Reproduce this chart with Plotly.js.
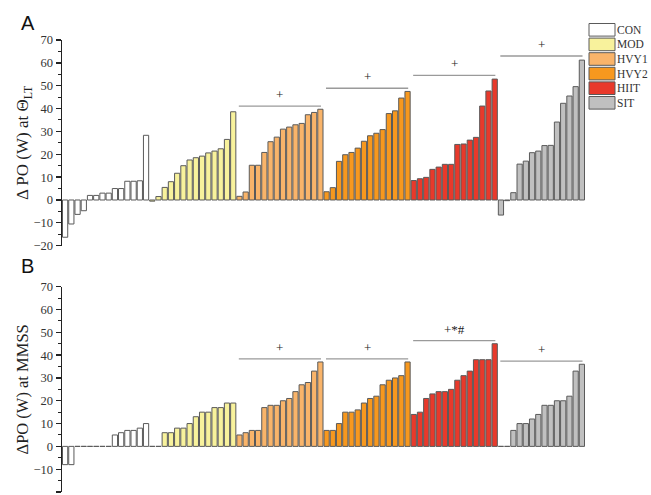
<!DOCTYPE html>
<html>
<head>
<meta charset="utf-8">
<script src="https://cdn.plot.ly/plotly-3.0.1.min.js"></script>
<style>
  html, body { margin: 0; padding: 0; background: #fff; }
  #chart { width: 651px; height: 495px; }
</style>
</head>
<body>
<div id="chart"></div>
<script>
// Training groups, in plotting order
const groups = ['CON', 'MOD', 'HVY1', 'HVY2', 'HIIT', 'SIT'];
const groupColors = ['#ffffff', '#f8f29c', '#f9b46a', '#f7981e', '#e8392b', '#c0c0c0'];

// Panel A: individual change in power output at the lactate threshold (W), sorted within group
const ltCON  = [-16.3, -10.5, -6.3, -4.7, 2, 2, 3, 3, 5, 5, 8.2, 8.2, 8.4, 28.3];
const ltMOD  = [-0.5, 1.5, 5.5, 8, 11.7, 15, 17.5, 18.5, 19.2, 20.6, 21.4, 22.4, 26.5, 38.6];
const ltHVY1 = [1.6, 3.5, 15.2, 15.2, 20.8, 25.5, 27.5, 31, 31.9, 32.9, 33.5, 37.3, 38.3, 39.7];
const ltHVY2 = [3.6, 5.4, 16.9, 19.8, 20.8, 22.7, 25.7, 28.1, 29.2, 30.8, 37.8, 39, 44.6, 47.5];
const ltHIIT = [8.5, 9.3, 9.9, 13.4, 14.4, 15.6, 15.6, 24.3, 24.5, 26.2, 27.4, 41.1, 47.7, 52.9];
const ltSIT  = [-6.6, -0.3, 3.2, 15.7, 17, 20.7, 21.4, 23.8, 23.9, 34.1, 42.3, 45.5, 49.6, 61.2];

// Panel B: individual change in power output at MMSS (W)
const mmCON  = [-8, -8, 0, 0, 0, 0, 0, 0, 5, 6, 7, 7, 8, 10];
const mmMOD  = [0, 0, 6, 6, 8, 8, 10, 13, 15, 15, 17, 17, 19, 19];
const mmHVY1 = [5, 6, 7, 7, 17, 18, 18, 20, 21, 24, 27, 28, 33, 37];
const mmHVY2 = [7, 7, 10, 15, 15, 16, 19, 21, 22, 27, 29, 30, 31, 37];
const mmHIIT = [14, 15, 21, 23, 24, 24, 25, 29, 31, 33, 38, 38, 38, 45];
const mmSIT  = [0, 0, 7, 10, 10, 12, 14, 18, 18, 20, 20, 22, 33, 36];

// Significance markers above groups: [group, bracket height, label]
const sigA = [['HVY1', 41.1, '+'], ['HVY2', 48.9, '+'], ['HIIT', 54.5, '+'], ['SIT', 63, '+']];
const sigB = [['HVY1', 38.4, '+'], ['HVY2', 38.4, '+'], ['HIIT', 46.4, '+*#'], ['SIT', 37.4, '+']];

const panelA = [ltCON, ltMOD, ltHVY1, ltHVY2, ltHIIT, ltSIT];
const panelB = [mmCON, mmMOD, mmHVY1, mmHVY2, mmHIIT, mmSIT];

const serif = 'Liberation Serif, Times New Roman, serif';
const outline = '#5a5a5a';

// Starting x index of each group (bars laid out one after another)
const starts = [];
let acc = 0;
panelA.forEach(g => { starts.push(acc); acc += g.length; });
const nBars = acc;

const traces = [];
function addPanel(data, xa, ya) {
  data.forEach((vals, gi) => {
    traces.push({
      type: 'bar',
      x: vals.map((_, i) => starts[gi] + i),
      y: vals,
      xaxis: xa, yaxis: ya,
      width: 0.84,
      marker: { color: groupColors[gi], line: { color: outline, width: 1 } },
      name: groups[gi],
      showlegend: false,
      hoverinfo: 'y'
    });
  });
}
addPanel(panelA, 'x', 'y');
addPanel(panelB, 'x2', 'y2');

const shapes = [];
const annotations = [];

function addSig(list, xr, yr) {
  list.forEach(([g, h, label]) => {
    const gi = groups.indexOf(g);
    const first = starts[gi];
    const last = first + panelA[gi].length - 1;
    shapes.push({ type: 'line', xref: xr, yref: yr, x0: first - 0.1, x1: last + 0.1, y0: h, y1: h,
                  line: { color: '#9a9a9a', width: 1.3 } });
    annotations.push({ xref: xr, yref: yr, x: (first + last) / 2, y: h, text: label, showarrow: false,
                       yanchor: 'bottom', yshift: 2, font: { family: serif, size: 13, color: '#222' } });
  });
}
addSig(sigA, 'x', 'y');
addSig(sigB, 'x2', 'y2');

// Legend: colour swatches with group names
const legX0 = 589 / 651, legX1 = 615 / 651;
groups.forEach((g, i) => {
  const top = 23.5 + i * 14.6;
  const bot = top + 12.6;
  shapes.push({ type: 'rect', xref: 'paper', yref: 'paper', x0: legX0, x1: legX1,
                y0: 1 - bot / 495, y1: 1 - top / 495,
                fillcolor: groupColors[i], line: { color: outline, width: 1 } });
  annotations.push({ xref: 'paper', yref: 'paper', x: 616 / 651, y: 1 - (top + bot) / 2 / 495,
                     xanchor: 'left', yanchor: 'middle', text: g, showarrow: false, borderpad: 0,
                     font: { family: serif, size: 11.5, color: '#333' } });
});

// Panel letters
annotations.push({ xref: 'paper', yref: 'paper', x: 19 / 651, y: 1 - 10 / 495, xanchor: 'left', yanchor: 'top',
                   text: 'A', showarrow: false, font: { family: 'Liberation Sans, Arial, sans-serif', size: 20, color: '#111' } });
annotations.push({ xref: 'paper', yref: 'paper', x: 19 / 651, y: 1 - 253 / 495, xanchor: 'left', yanchor: 'top',
                   text: 'B', showarrow: false, font: { family: 'Liberation Sans, Arial, sans-serif', size: 20, color: '#111' } });

const xDomain = [62 / 651, 585 / 651];
const xBase = { domain: xDomain, range: [-0.5, nBars - 0.5], visible: false, fixedrange: true };
const yBase = {
  range: [-20, 70], dtick: 10, tick0: 0,
  ticks: 'outside', ticklen: 5, tickwidth: 1.3, tickcolor: '#222',
  minor: { dtick: 5, ticks: 'outside', ticklen: 3, tickwidth: 1, tickcolor: '#222' },
  showline: true, linecolor: '#222', linewidth: 1.5,
  showgrid: false, zeroline: false,
  tickfont: { family: serif, size: 12.5, color: '#333' },
  automargin: false, fixedrange: true
};

const layout = {
  width: 651, height: 495,
  margin: { l: 0, r: 0, t: 0, b: 0 },
  paper_bgcolor: '#fff', plot_bgcolor: 'rgba(0,0,0,0)',
  barmode: 'overlay',
  showlegend: false,
  xaxis: Object.assign({}, xBase, { anchor: 'y' }),
  xaxis2: Object.assign({}, xBase, { anchor: 'y2' }),
  yaxis: Object.assign({}, yBase, {
    anchor: 'x', domain: [1 - 245.7 / 495, 1 - 40 / 495],
    title: { text: 'Δ PO (W) at Θ<sub>LT</sub>', standoff: 0, font: { family: serif, size: 17, color: '#222' } }
  }),
  yaxis2: Object.assign({}, yBase, {
    anchor: 'x2', domain: [1 - 492 / 495, 1 - 286.7 / 495],
    title: { text: 'ΔPO (W) at MMSS', standoff: 0, font: { family: serif, size: 16.5, color: '#222' } }
  }),
  shapes: shapes,
  annotations: annotations
};

Plotly.newPlot('chart', traces, layout, { staticPlot: true, displayModeBar: false });
</script>
</body>
</html>
